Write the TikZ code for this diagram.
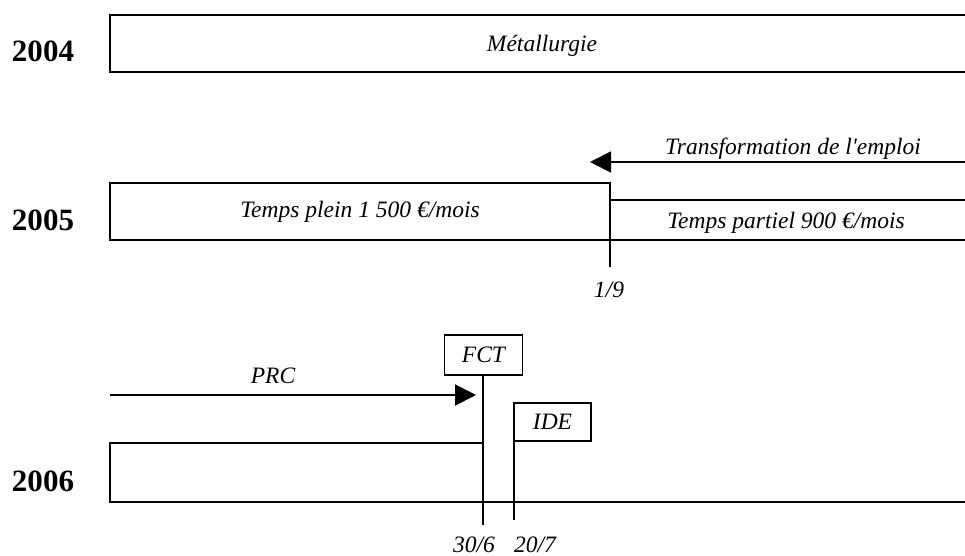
\documentclass[tikz,border=0pt]{standalone}
\usepackage{fontspec}
\setmainfont{Liberation Serif}
\usetikzlibrary{arrows.meta}
\begin{document}
\begin{tikzpicture}[x=1pt,y=-1pt,
  bar/.style={line width=1.9pt, line cap=rect},
  tick/.style={line width=1.9pt},
  arr/.style={line width=1.9pt, -{Triangle[length=21pt,width=21pt]}},
  lbl/.style={font=\fontsize{23.5}{28}\selectfont\itshape, inner sep=0pt, anchor=base},
  year/.style={font=\fontsize{31}{36}\selectfont\bfseries, inner sep=0pt, anchor=base},
  tagbox/.style={draw, line width=1.9pt, minimum width=78pt, minimum height=40pt, inner sep=0pt,
    font=\fontsize{23.5}{28}\selectfont\itshape}]
\useasboundingbox (0,0) rectangle (965,556);
% ---------- 2004
\node[year] (y4) at (43,62) {2004};
\coordinate (a1) at (965,15);
\coordinate (a2) at (110,15);
\coordinate (a3) at (110,72);
\coordinate (a4) at (965,72);
\draw[bar] (a1) -- (a2) -- (a3) -- (a4);
\node[lbl] (met) at (542,52) {Métallurgie};
% ---------- 2005
\node[year] (y5) at (43,230) {2005};
\coordinate (tr0) at (965,162);
\coordinate (tr1) at (590,162);
\draw[arr] (tr0) -- (tr1);
\node[lbl] (trt) at (793,155) {Transformation de l\textquotesingle emploi};
\coordinate (b1) at (110,183);
\coordinate (b2) at (610,240);
\draw[bar] (b1) rectangle (b2);
\coordinate (c1) at (610,200);
\coordinate (c2) at (965,200);
\coordinate (c3) at (610,240);
\coordinate (c4) at (965,240);
\draw[bar] (c1) -- (c2);
\draw[bar] (c3) -- (c4);
\coordinate (d1) at (610,183);
\coordinate (d2) at (610,267);
\draw[tick] (d1) -- (d2);
\node[lbl] (tp) at (360,217) {Temps plein 1 500 €/mois};
\node[lbl] (tpa) at (786,228) {Temps partiel 900 €/mois};
\node[lbl] (d19) at (609,297) {1/9};
% ---------- 2006
\node[year] (y6) at (43,491) {2006};
\coordinate (p0) at (110,395);
\coordinate (p1) at (476,395);
\draw[arr] (p0) -- (p1);
\node[lbl] (prc) at (273,383) {PRC};
\node[tagbox] (fct) at (483.5,355) {FCT};
\node[tagbox, minimum width=77pt, minimum height=38pt] (ide) at (552.5,422) {IDE};
\coordinate (f2) at (483,525);
\draw[tick] (fct.south -| f2) -- (f2);
\coordinate (i1) at (514,441);
\coordinate (i2) at (514,520);
\draw[tick] (i1) -- (i2);
\coordinate (e1) at (483,443);
\coordinate (e2) at (110,443);
\coordinate (e3) at (110,502);
\coordinate (e4) at (965,502);
\draw[bar] (e1) -- (e2) -- (e3) -- (e4);
\coordinate (g1) at (418,502);
\coordinate (g2) at (483,502);
\draw[line width=2.6pt] (g1) -- (g2);
\node[lbl] (d306) at (474,552) {30/6};
\node[lbl] (d207) at (535,552) {20/7};
\end{tikzpicture}
\end{document}
